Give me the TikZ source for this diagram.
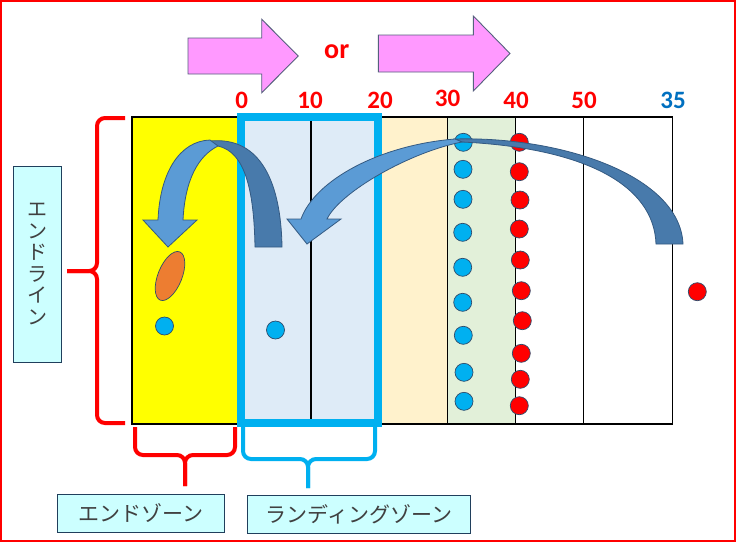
\documentclass[tikz,border=0pt]{standalone}
\usepackage{fontspec}
\newfontfamily\calib{Carlito}
\newfontfamily\jp{Noto Sans CJK JP}
\definecolor{pinkF}{HTML}{FF99FF}
\definecolor{pinkD}{HTML}{56607E}
\definecolor{yellowF}{HTML}{FFFF00}
\definecolor{landF}{HTML}{DEEBF7}
\definecolor{creamF}{HTML}{FFF2CC}
\definecolor{greenF}{HTML}{E2F0D9}
\definecolor{cyanC}{HTML}{00B0F0}
\definecolor{dotD}{HTML}{2F4B6B}
\definecolor{arrL}{HTML}{5B9BD5}
\definecolor{arrD}{HTML}{487AAB}
\definecolor{arrB}{HTML}{345A82}
\definecolor{orangeF}{HTML}{ED7D31}
\definecolor{boxF}{HTML}{CCFFFF}
\definecolor{boxD}{HTML}{203F5C}
\definecolor{txtG}{HTML}{404040}
\definecolor{blueN}{HTML}{0070C0}
\begin{document}
\begin{tikzpicture}[x=1pt,y=-1pt,
  pinkarrow/.style={fill=pinkF,draw=pinkD,line width=0.9pt,line join=miter},
  lightarrow/.style={fill=arrL,draw=arrB,line width=0.8pt},
  darkarrow/.style={fill=arrD,draw=arrB,line width=0.8pt},
  bdot/.style={circle,fill=cyanC,draw=dotD,line width=0.7pt,minimum size=18pt,inner sep=0pt},
  rdot/.style={circle,fill=red,draw=dotD,line width=0.7pt,minimum size=18pt,inner sep=0pt},
  num/.style={anchor=base,text=red,font=\calib\bfseries\fontsize{25}{25}\selectfont,inner sep=0pt},
  lbox/.style={draw=boxD,fill=boxF,line width=1pt,inner sep=0pt,text=txtG,font=\jp\fontsize{21}{21}\selectfont},
  bracer/.style={draw=red,line width=4pt,rounded corners=8pt},
  braceb/.style={draw=cyanC,line width=4pt,rounded corners=8pt}]
\useasboundingbox (0,0) rectangle (736,542);
\fill[white] (0,0) rectangle (736,542);
\draw[red,line width=2pt] (1,1) rectangle (735,541);

% top pink arrows and "or"
\draw[pinkarrow] (188,38) -- (261.7,38) -- (261.7,19.3) -- (298.3,56) -- (261.7,92.7) -- (261.7,74) -- (188,74) -- cycle;
\draw[pinkarrow] (378.3,35) -- (473.3,35) -- (473.3,16) -- (510,53.5) -- (473.3,91) -- (473.3,72) -- (378.3,72) -- cycle;
\node[anchor=base,text=red,font=\calib\bfseries\fontsize{28}{28}\selectfont,inner sep=0pt] (or) at (336.7,58.3) {or};

% numbers
\node[num] (n0) at (241.7,108.3) {0};
\node[num] (n10) at (310,108.3) {10};
\node[num] (n20) at (380,108.3) {20};
\node[num] (n30) at (447.5,106.5) {30};
\node[num] (n40) at (516,108.3) {40};
\node[num] (n50) at (584,108.3) {50};
\node[num,text=blueN] (n35) at (673,108.3) {35};

% field
\fill[yellowF] (132,117) rectangle (238,424);
\fill[landF] (238,117) rectangle (380,424);
\fill[creamF] (380,117) rectangle (447.3,424);
\fill[greenF] (447.3,117) rectangle (515.3,424);
\draw[black,line width=1.3pt] (132,117) rectangle (672.3,424);
\foreach \xx in {238,311,380,447.3,515.3,583.3}
  \draw[black,line width=1.3pt] (\xx,117) -- (\xx,424);
\draw[cyanC,line width=7.5pt] (241.2,117) rectangle (378,423);

% braces
\draw[bracer] (125,118) -- (97,118) -- (97,271) -- (67,271);
\draw[bracer] (125,423) -- (97,423) -- (97,271) -- (67,271);
\draw[bracer] (135,427) -- (135,455) -- (185,455) -- (185,486);
\draw[bracer] (235,427) -- (235,455) -- (185,455) -- (185,486);
\draw[braceb] (243,427) -- (243,459) -- (308,459) -- (308,488);
\draw[braceb] (375,427) -- (375,459) -- (308,459) -- (308,488);

% label boxes
\node[lbox,minimum width=48.4pt,minimum height=196pt,align=center,font=\jp\fontsize{20}{21.5}\selectfont] (endline) at (37.5,264) {エ\\ン\\ド\\ラ\\イ\\ン};
\node[lbox,minimum width=167pt,minimum height=38pt] (endzone) at (140.8,513.3) {エンドゾーン};
\node[lbox,minimum width=223.4pt,minimum height=38pt] (landzone) at (359,514.3) {ランディングゾーン};

% players
\node[bdot] (p1) at (164.5,326) {};
\node[bdot] (p2) at (275.5,330) {};
\filldraw[fill=orangeF,draw=dotD,line width=0.7pt,rotate around={-22:(170,276)}] (170,276) ellipse [x radius=12pt,y radius=26pt];
\foreach \yy/\xx [count=\i] in {142.3/463.3,169.3/463,199.3/463,232.3/462.7,267.3/462.7,302.3/462.7,335.3/463.3,372.3/464,401.3/464}
  \node[bdot] (b\i) at (\xx,\yy) {};
\foreach \yy/\xx [count=\i] in {142.3/519.3,171.7/519.3,200/520,229/519.3,260/520.3,290.7/521.3,320.7/522.3,353.3/521.3,379.3/520.3,405.7/519.3}
  \node[rdot] (r\i) at (\xx,\yy) {};
\node[rdot] (rr) at (697.3,291.7) {};

% curved arrows
\filldraw[darkarrow] (210,141) .. controls (262,136) and (281,185) .. (282,247) -- (255,247) .. controls (254,190) and (245,152) .. (218,146) -- cycle;
\filldraw[lightarrow] (210,140) .. controls (180,141) and (160,172) .. (158,220) -- (143,220) -- (168,247) -- (197,220) -- (183,220) .. controls (185,180) and (198,156) .. (218,146) -- cycle;
\filldraw[darkarrow] (455,139) .. controls (560,136) and (680,175) .. (683,244) -- (656,244) .. controls (654,185) and (585,148) .. (462,142) -- cycle;
\filldraw[lightarrow] (455,139) .. controls (380,145) and (315,180) .. (301,219) -- (287,219) -- (307,244) -- (341,219) -- (327,219) .. controls (340,192) and (410,152) .. (462,142) -- cycle;
\end{tikzpicture}
\end{document}
